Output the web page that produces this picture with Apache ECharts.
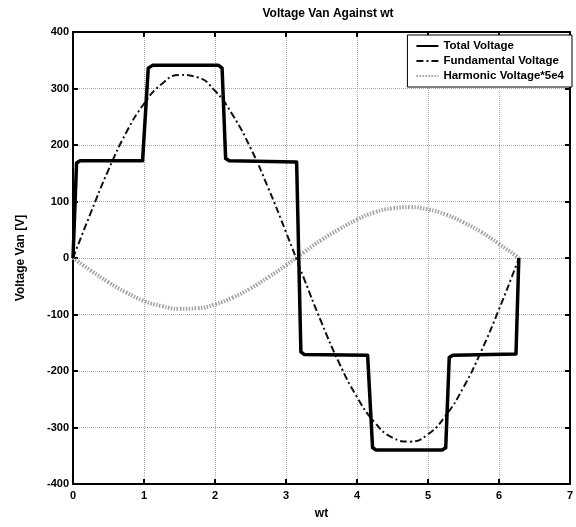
<!DOCTYPE html>
<html>
<head>
<meta charset="utf-8">
<script src="https://cdn.jsdelivr.net/npm/echarts@6/dist/echarts.min.js"></script>
<style>
  html, body { margin: 0; padding: 0; background: #fff; }
  #chart { width: 576px; height: 527px; }
</style>
</head>
<body>
<div id="chart"></div>
<script>
// sample points of wt for the smooth curves
var wtSamples = [0, 0.25, 0.5, 0.75, 1.0, 1.25, 1.5, 1.75, 2.0, 2.25, 2.5, 2.75, 3.0, 3.25,
  3.5, 3.75, 4.0, 4.25, 4.5, 4.75, 5.0, 5.25, 5.5, 5.75, 6.0, 6.25, 6.28]
// fundamental voltage
var fundamentalV = [0, 80, 156, 222, 273, 308, 324, 320, 296, 253, 195, 124, 46, -35,
  -114, -186, -246, -291, -318, -325, -312, -279, -229, -165, -91, -11, 0]
// harmonic voltage * 5e4
var harmonicV = [0, -22, -43, -61, -76, -85, -90, -89, -82, -70, -54, -34, -13, 10,
  32, 51, 68, 81, 88, 90, 86, 77, 63, 46, 25, 3, 0]
// total (stepped) voltage
var totalWt = [0, 0.05, 0.1, 0.98, 1.06, 1.12, 2.05, 2.1, 2.15, 2.2, 3.15, 3.21, 3.26,
  4.15, 4.22, 4.27, 5.2, 5.25, 5.3, 5.35, 6.24, 6.28]
var totalV = [0, 168, 172, 172, 336, 341, 341, 336, 176, 172, 170, -166, -171,
  -172, -336, -340, -340, -336, -176, -172, -170, 0]
var xTicks = [0, 1, 2, 3, 4, 5, 6, 7]
var yTicks = [-400, -300, -200, -100, 0, 100, 200, 300, 400]
var seriesNames = ['Total Voltage', 'Fundamental Voltage', 'Harmonic Voltage*5e4']

function pairs(xs, ys) {
  return xs.map(function (x, i) { return [x, ys[i]] })
}

var font = 'Liberation Sans, Arial, sans-serif'
var boxLine = { show: true, onZero: false, lineStyle: { color: '#000', width: 2 } }
var tick = { show: true, inside: true, length: 5, lineStyle: { color: '#000', width: 2 } }
var grid = { show: true, showMinLine: false, showMaxLine: false, lineStyle: { type: 'dotted', color: '#aaa', width: 1 } }
var labelStyle = { fontSize: 11, fontWeight: 'bold', color: '#000', fontFamily: font }

var myChart = echarts.init(document.getElementById('chart'))

var option = {
  animation: false,
  title: {
    text: 'Voltage Van Against wt',
    left: 323,
    textAlign: 'center',
    top: 3,
    textStyle: { fontSize: 12, fontWeight: 'bold', color: '#000', fontFamily: font }
  },
  legend: {
    orient: 'vertical',
    right: 4,
    top: 35,
    backgroundColor: '#fff',
    borderColor: '#000',
    borderWidth: 1,
    padding: [5, 8, 5, 8],
    itemGap: 3,
    itemWidth: 22,
    itemHeight: 10,
    textStyle: { fontSize: 11.5, fontWeight: 'bold', color: '#000', fontFamily: font },
    data: seriesNames.map(function (n) { return { name: n, itemStyle: { opacity: 0 } } })
  },
  grid: { left: 73, right: 2, top: 32, bottom: 43 },
  xAxis: [{
    type: 'value',
    min: xTicks[0],
    max: xTicks[xTicks.length - 1],
    interval: 1,
    name: 'wt',
    nameLocation: 'middle',
    nameGap: 24,
    nameTextStyle: { fontSize: 12, fontWeight: 'bold', color: '#000', fontFamily: font },
    axisLine: boxLine,
    axisTick: tick,
    axisLabel: Object.assign({ margin: 6 }, labelStyle),
    splitLine: grid
  }, {
    type: 'value',
    position: 'top',
    min: xTicks[0],
    max: xTicks[xTicks.length - 1],
    interval: 1,
    axisLine: boxLine,
    axisTick: tick,
    axisLabel: { show: false },
    splitLine: { show: false }
  }],
  yAxis: [{
    type: 'value',
    min: yTicks[0],
    max: yTicks[yTicks.length - 1],
    interval: 100,
    name: 'Voltage Van [V]',
    nameLocation: 'middle',
    nameGap: 46,
    nameTextStyle: { fontSize: 12, fontWeight: 'bold', color: '#000', fontFamily: font },
    axisLine: boxLine,
    axisTick: tick,
    axisLabel: Object.assign({ margin: 4 }, labelStyle),
    splitLine: grid
  }, {
    type: 'value',
    position: 'right',
    min: yTicks[0],
    max: yTicks[yTicks.length - 1],
    interval: 100,
    axisLine: boxLine,
    axisTick: tick,
    axisLabel: { show: false },
    splitLine: { show: false }
  }],
  series: [{
    name: seriesNames[2],
    type: 'line',
    symbol: 'none',
    smooth: true,
    data: pairs(wtSamples, harmonicV),
    lineStyle: { color: '#a0a0a0', width: 4, type: [1.5, 1.5] },
    itemStyle: { color: '#a0a0a0' }
  }, {
    name: seriesNames[1],
    type: 'line',
    symbol: 'none',
    smooth: true,
    data: pairs(wtSamples, fundamentalV),
    lineStyle: { color: '#111', width: 2, type: [7, 3, 2, 3] },
    itemStyle: { color: '#111' }
  }, {
    name: seriesNames[0],
    type: 'line',
    symbol: 'none',
    data: pairs(totalWt, totalV),
    lineStyle: { color: '#000', width: 3.5, join: 'round' },
    itemStyle: { color: '#000' }
  }]
}

myChart.setOption(option)
window.onresize = function () {
  myChart.resize()
}
</script>
</body>
</html>
